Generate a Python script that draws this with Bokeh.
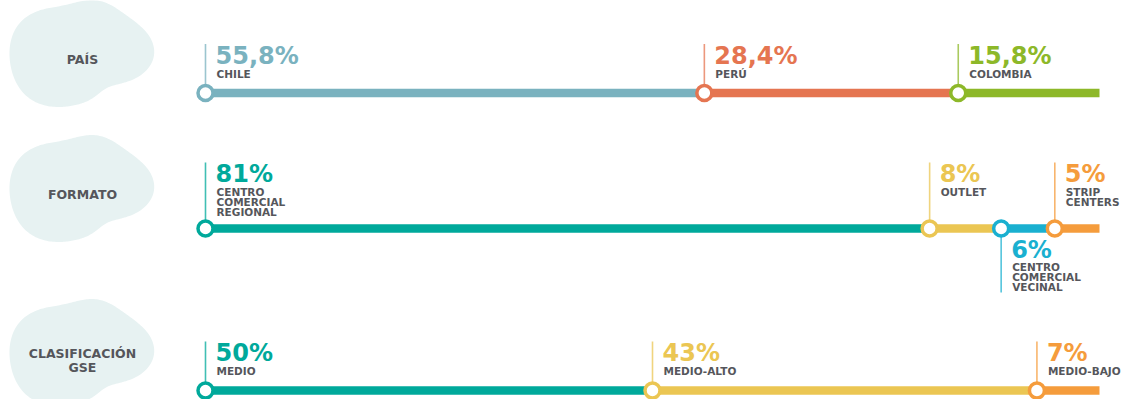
import numpy as np
from bokeh.plotting import figure
from bokeh.models import Range1d
from bokeh.core.properties import value
from bokeh.embed import file_html
from bokeh.resources import INLINE

# ---------------- data ----------------
categories = ["PAÍS", "FORMATO", "CLASIFICACIÓN\nGSE"]

pais_names = ["CHILE", "PERÚ", "COLOMBIA"]
pais_values = [55.8, 28.4, 15.8]
pais_colors = ["#7ab2bf", "#e57551", "#8db829"]
pais_side = ["up", "up", "up"]

formato_names = ["CENTRO\nCOMERCIAL\nREGIONAL", "OUTLET", "CENTRO\nCOMERCIAL\nVECINAL", "STRIP\nCENTERS"]
formato_values = [81, 8, 6, 5]
formato_colors = ["#00a99b", "#ebc653", "#1ab0d0", "#f59c3c"]
formato_side = ["up", "up", "down", "up"]

gse_names = ["MEDIO", "MEDIO-ALTO", "MEDIO-BAJO"]
gse_values = [50, 43, 7]
gse_colors = ["#00a99b", "#ebc653", "#f59c3c"]
gse_side = ["up", "up", "up"]

rows = [
    (pais_names, pais_values, pais_colors, pais_side),
    (formato_names, formato_values, formato_colors, formato_side),
    (gse_names, gse_values, gse_colors, gse_side),
]

# ---------------- layout (pixel units) ----------------
W, H = 1131, 399
BAR_X0 = 205.0          # x of 0 %
PX_PER_PCT = 8.94       # pixels per percent
ROW_BAR_Y = [92.5, 228, 390]
BLOB_CX = 82
BLOB_CY = [57, 192, 356]
BLOB_COLOR = "#e7f2f2"
TEXT_GRAY = "#55565b"
FONT = value("DejaVu Sans")
PCT_SHIFT = 8.5    # renderer places glyphs about half a cap height low
LAB_SHIFT = 4.5

def px2pct(x):
    return (x - BAR_X0) / PX_PER_PCT

p = figure(width=W, height=H, output_backend="svg", toolbar_location=None,
           x_range=Range1d(px2pct(0), px2pct(W)),
           y_range=Range1d(H, 0),
           x_axis_location=None, y_axis_location=None,
           min_border=0, outline_line_color=None,
           background_fill_color="white", border_fill_color="white")
p.xgrid.visible = False
p.ygrid.visible = False

# ---------------- blob shape (decorative) ----------------
blob_anchor = np.array([
    (-73, 6), (-62, -37), (-22, -50), (48, -39), (73, -7), (68, 11),
    (51, 20), (28, 28), (8, 40), (-19, 50), (-62, 33)], dtype=float)
ang = np.arctan2(blob_anchor[:, 1], blob_anchor[:, 0])
rad = np.hypot(blob_anchor[:, 0], blob_anchor[:, 1])
order = np.argsort(ang)
ang, rad = ang[order], rad[order]
t = np.linspace(-np.pi, np.pi, 256, endpoint=False)
r_lin = np.interp(t, ang, rad, period=2 * np.pi)
F = np.fft.rfft(r_lin)
F[6:] = 0
r_s = np.fft.irfft(F, n=len(t))
bx = r_s * np.cos(t)
by = r_s * np.sin(t)

for cat, cy in zip(categories, BLOB_CY):
    p.patch(x=list(px2pct(BLOB_CX + bx)), y=list(cy + by),
            fill_color=BLOB_COLOR, line_color=None)
    lines = cat.split("\n")
    n = len(lines)
    first = cy + 6 - 5 * (n - 1) - LAB_SHIFT
    p.text(x=[px2pct(BLOB_CX)] * n, y=[first + 14 * i for i in range(n)], text=lines,
           text_font=FONT, text_font_style="bold", text_font_size="12.5px",
           text_color=TEXT_GRAY, text_align="center", text_baseline="alphabetic")

# ---------------- rows ----------------
def fmt(v):
    return f"{v:g}".replace(".", ",") + "%"

for (names, vals, cols, sides), bar_y in zip(rows, ROW_BAR_Y):
    starts = np.concatenate([[0], np.cumsum(vals)[:-1]])
    ends = np.cumsum(vals)
    # bar segments
    p.segment(x0=list(starts), y0=[bar_y] * len(vals), x1=list(ends), y1=[bar_y] * len(vals),
              line_color=cols, line_width=8.5, line_cap="butt")
    n_up = max(len(nm.split("\n")) for nm, s in zip(names, sides) if s == "up")
    last_up = bar_y - 15 + 1.5 * (n_up - 1)
    first_up = last_up - 10 * (n_up - 1)
    pct_up = first_up - 14
    top_up = pct_up - 20
    for x, nm, v, c, s in zip(starts, names, vals, cols, sides):
        lines = nm.split("\n")
        if s == "up":
            y_end, pct_y, lab_y0 = top_up, pct_up, first_up
        else:
            pct_y = bar_y + 30
            lab_y0 = bar_y + 43
            y_end = lab_y0 + 10 * (len(lines) - 1) + 1
        p.segment(x0=[x], y0=[bar_y], x1=[x], y1=[y_end],
                  line_color=c, line_width=1.6, line_alpha=0.75)
        p.text(x=[x], y=[pct_y - PCT_SHIFT], text=[fmt(v)], x_offset=10,
               text_font=FONT, text_font_style="bold", text_font_size="24px",
               text_color=c, text_align="left", text_baseline="alphabetic")
        p.text(x=[x] * len(lines), y=[lab_y0 - LAB_SHIFT + 10 * i for i in range(len(lines))],
               text=lines, x_offset=11, text_font=FONT, text_font_style="bold",
               text_font_size="10.5px", text_color=TEXT_GRAY, text_align="left",
               text_baseline="alphabetic")
    # ring markers
    p.scatter(x=list(starts), y=[bar_y] * len(vals), marker="circle", size=15,
              fill_color="white", line_color=cols, line_width=3.5)

open("out.html", "w").write(file_html(p, INLINE))
